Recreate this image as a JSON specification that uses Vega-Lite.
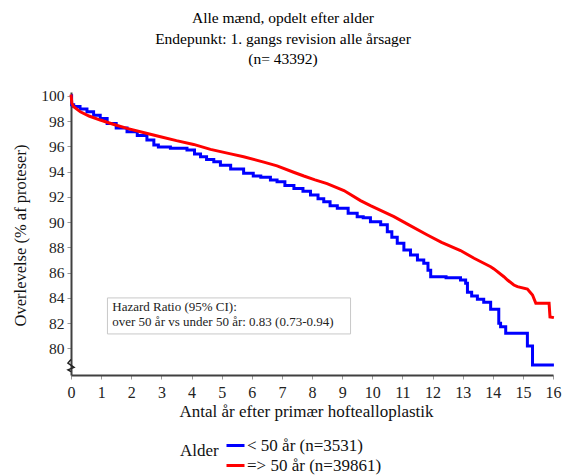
{
  "$schema": "https://vega.github.io/schema/vega-lite/v6.json",
  "width": 482,
  "height": 283,
  "autosize": {"type": "none"},
  "padding": {"left": 71, "top": 92, "right": 13, "bottom": 101},
  "background": "white",
  "config": {"view": {"stroke": null}, "font": "Liberation Serif", "axis": {"labelOverlap": false, "labelBound": false, "labelFlush": false}},
  "title": {
    "text": ["Alle mænd, opdelt efter alder", "Endepunkt: 1. gangs revision alle årsager", "(n= 43392)"],
    "fontSize": 15.5,
    "fontWeight": "normal",
    "font": "Liberation Serif",
    "color": "black",
    "lineHeight": 20.5,
    "anchor": "middle",
    "dx": -29,
    "offset": 21
  },
  "datasets": {
    "km": [
      {"t": 0, "v": 100, "g": "< 50 år (n=3531)"},
      {"t": 0.02, "v": 99.3, "g": "< 50 år (n=3531)"},
      {"t": 0.09, "v": 99.15, "g": "< 50 år (n=3531)"},
      {"t": 0.3, "v": 98.95, "g": "< 50 år (n=3531)"},
      {"t": 0.53, "v": 98.73, "g": "< 50 år (n=3531)"},
      {"t": 0.75, "v": 98.45, "g": "< 50 år (n=3531)"},
      {"t": 0.97, "v": 98.2, "g": "< 50 år (n=3531)"},
      {"t": 1.2, "v": 97.8, "g": "< 50 år (n=3531)"},
      {"t": 1.5, "v": 97.45, "g": "< 50 år (n=3531)"},
      {"t": 1.86, "v": 97.15, "g": "< 50 år (n=3531)"},
      {"t": 2.2, "v": 96.85, "g": "< 50 år (n=3531)"},
      {"t": 2.52, "v": 96.5, "g": "< 50 år (n=3531)"},
      {"t": 2.75, "v": 96.1, "g": "< 50 år (n=3531)"},
      {"t": 2.9, "v": 95.95, "g": "< 50 år (n=3531)"},
      {"t": 3.3, "v": 95.85, "g": "< 50 år (n=3531)"},
      {"t": 3.85, "v": 95.7, "g": "< 50 år (n=3531)"},
      {"t": 4.1, "v": 95.4, "g": "< 50 år (n=3531)"},
      {"t": 4.3, "v": 95.17, "g": "< 50 år (n=3531)"},
      {"t": 4.5, "v": 94.95, "g": "< 50 år (n=3531)"},
      {"t": 4.74, "v": 94.78, "g": "< 50 år (n=3531)"},
      {"t": 4.96, "v": 94.5, "g": "< 50 år (n=3531)"},
      {"t": 5.3, "v": 94.2, "g": "< 50 år (n=3531)"},
      {"t": 5.73, "v": 93.86, "g": "< 50 år (n=3531)"},
      {"t": 6.05, "v": 93.65, "g": "< 50 år (n=3531)"},
      {"t": 6.3, "v": 93.55, "g": "< 50 år (n=3531)"},
      {"t": 6.62, "v": 93.33, "g": "< 50 år (n=3531)"},
      {"t": 6.84, "v": 93.2, "g": "< 50 år (n=3531)"},
      {"t": 7.1, "v": 92.9, "g": "< 50 år (n=3531)"},
      {"t": 7.4, "v": 92.67, "g": "< 50 år (n=3531)"},
      {"t": 7.7, "v": 92.45, "g": "< 50 år (n=3531)"},
      {"t": 7.95, "v": 92.14, "g": "< 50 år (n=3531)"},
      {"t": 8.2, "v": 91.85, "g": "< 50 år (n=3531)"},
      {"t": 8.39, "v": 91.61, "g": "< 50 år (n=3531)"},
      {"t": 8.6, "v": 91.3, "g": "< 50 år (n=3531)"},
      {"t": 8.84, "v": 91.09, "g": "< 50 år (n=3531)"},
      {"t": 9.2, "v": 90.7, "g": "< 50 år (n=3531)"},
      {"t": 9.5, "v": 90.43, "g": "< 50 år (n=3531)"},
      {"t": 9.7, "v": 90.35, "g": "< 50 år (n=3531)"},
      {"t": 9.94, "v": 90.03, "g": "< 50 år (n=3531)"},
      {"t": 10.28, "v": 89.8, "g": "< 50 år (n=3531)"},
      {"t": 10.5, "v": 89.24, "g": "< 50 år (n=3531)"},
      {"t": 10.65, "v": 88.8, "g": "< 50 år (n=3531)"},
      {"t": 10.83, "v": 88.32, "g": "< 50 år (n=3531)"},
      {"t": 11.05, "v": 87.8, "g": "< 50 år (n=3531)"},
      {"t": 11.27, "v": 87.4, "g": "< 50 år (n=3531)"},
      {"t": 11.5, "v": 87.0, "g": "< 50 år (n=3531)"},
      {"t": 11.71, "v": 86.74, "g": "< 50 år (n=3531)"},
      {"t": 11.85, "v": 86.2, "g": "< 50 år (n=3531)"},
      {"t": 11.94, "v": 85.68, "g": "< 50 år (n=3531)"},
      {"t": 12.45, "v": 85.6, "g": "< 50 år (n=3531)"},
      {"t": 12.93, "v": 85.42, "g": "< 50 år (n=3531)"},
      {"t": 13.1, "v": 85.16, "g": "< 50 år (n=3531)"},
      {"t": 13.16, "v": 84.45, "g": "< 50 år (n=3531)"},
      {"t": 13.3, "v": 84.15, "g": "< 50 år (n=3531)"},
      {"t": 13.49, "v": 83.9, "g": "< 50 år (n=3531)"},
      {"t": 13.7, "v": 83.65, "g": "< 50 år (n=3531)"},
      {"t": 13.93, "v": 83.1, "g": "< 50 år (n=3531)"},
      {"t": 14.2, "v": 82.0, "g": "< 50 år (n=3531)"},
      {"t": 14.26, "v": 81.72, "g": "< 50 år (n=3531)"},
      {"t": 14.43, "v": 81.2, "g": "< 50 år (n=3531)"},
      {"t": 15.15, "v": 80.2, "g": "< 50 år (n=3531)"},
      {"t": 15.32, "v": 78.7, "g": "< 50 år (n=3531)"},
      {"t": 16.03, "v": 78.7, "g": "< 50 år (n=3531)"},
      {"t": 0, "v": 100.1, "g": "=> 50 år (n=39861)"},
      {"t": 0.03, "v": 99.4, "g": "=> 50 år (n=39861)"},
      {"t": 0.09, "v": 99.13, "g": "=> 50 år (n=39861)"},
      {"t": 0.31, "v": 98.73, "g": "=> 50 år (n=39861)"},
      {"t": 0.6, "v": 98.4, "g": "=> 50 år (n=39861)"},
      {"t": 0.97, "v": 98.08, "g": "=> 50 år (n=39861)"},
      {"t": 1.4, "v": 97.75, "g": "=> 50 år (n=39861)"},
      {"t": 1.86, "v": 97.42, "g": "=> 50 år (n=39861)"},
      {"t": 2.4, "v": 97.1, "g": "=> 50 år (n=39861)"},
      {"t": 2.97, "v": 96.76, "g": "=> 50 år (n=39861)"},
      {"t": 3.5, "v": 96.45, "g": "=> 50 år (n=39861)"},
      {"t": 4.07, "v": 96.15, "g": "=> 50 år (n=39861)"},
      {"t": 4.63, "v": 95.76, "g": "=> 50 år (n=39861)"},
      {"t": 5.3, "v": 95.4, "g": "=> 50 år (n=39861)"},
      {"t": 5.73, "v": 95.17, "g": "=> 50 år (n=39861)"},
      {"t": 6.4, "v": 94.75, "g": "=> 50 år (n=39861)"},
      {"t": 6.84, "v": 94.45, "g": "=> 50 år (n=39861)"},
      {"t": 7.39, "v": 93.95, "g": "=> 50 år (n=39861)"},
      {"t": 7.73, "v": 93.65, "g": "=> 50 år (n=39861)"},
      {"t": 8.1, "v": 93.35, "g": "=> 50 år (n=39861)"},
      {"t": 8.5, "v": 93.05, "g": "=> 50 år (n=39861)"},
      {"t": 9.06, "v": 92.5, "g": "=> 50 år (n=39861)"},
      {"t": 9.61, "v": 91.7, "g": "=> 50 år (n=39861)"},
      {"t": 9.94, "v": 91.3, "g": "=> 50 år (n=39861)"},
      {"t": 10.72, "v": 90.43, "g": "=> 50 år (n=39861)"},
      {"t": 11.2, "v": 89.8, "g": "=> 50 år (n=39861)"},
      {"t": 11.83, "v": 88.98, "g": "=> 50 år (n=39861)"},
      {"t": 12.3, "v": 88.4, "g": "=> 50 år (n=39861)"},
      {"t": 12.93, "v": 87.75, "g": "=> 50 år (n=39861)"},
      {"t": 13.38, "v": 87.14, "g": "=> 50 år (n=39861)"},
      {"t": 13.93, "v": 86.47, "g": "=> 50 år (n=39861)"},
      {"t": 14.04, "v": 86.3, "g": "=> 50 år (n=39861)"},
      {"t": 14.37, "v": 85.68, "g": "=> 50 år (n=39861)"},
      {"t": 14.49, "v": 85.42, "g": "=> 50 år (n=39861)"},
      {"t": 14.7, "v": 85.02, "g": "=> 50 år (n=39861)"},
      {"t": 14.82, "v": 84.89, "g": "=> 50 år (n=39861)"},
      {"t": 15.15, "v": 84.7, "g": "=> 50 år (n=39861)"},
      {"t": 15.32, "v": 84.23, "g": "=> 50 år (n=39861)"},
      {"t": 15.43, "v": 83.58, "g": "=> 50 år (n=39861)"},
      {"t": 15.87, "v": 83.58, "g": "=> 50 år (n=39861)"},
      {"t": 15.9, "v": 82.5, "g": "=> 50 år (n=39861)"},
      {"t": 16.03, "v": 82.44, "g": "=> 50 år (n=39861)"}
    ]
  },
  "encoding": {
    "x": {
      "field": "t", "type": "quantitative",
      "scale": {"domain": [0, 16], "nice": false, "zero": false},
      "axis": {
        "values": [0,1,2,3,4,5,6,7,8,9,10,11,12,13,14,15,16],
        "tickCount": 17,
        "labelOverlap": false,
        "labelBound": false,
        "labelFlush": false,
        "grid": false,
        "domainColor": "#404040", "domainWidth": 2,
        "tickColor": "#999999", "tickSize": 4,
        "labelFontSize": 16, "labelColor": "#222222", "labelPadding": 5,
        "labelFont": "Liberation Serif",
        "title": "Antal år efter primær hoftealloplastik",
        "titleFont": "Liberation Serif",
        "titleFontSize": 17, "titleFontWeight": "normal", "titleColor": "#111111",
        "titlePadding": 3, "titleX": 235
      }
    },
    "y": {
      "field": "v", "type": "quantitative",
      "scale": {"domain": [77.9, 100.3], "nice": false, "zero": false},
      "axis": {
        "values": [80,82,84,86,88,90,92,94,96,98,100],
        "tickCount": 11,
        "labelOverlap": false,
        "labelBound": false,
        "labelFlush": false,
        "grid": false,
        "domainColor": "#404040", "domainWidth": 2,
        "tickColor": "#999999", "tickSize": 4,
        "labelFontSize": 15.5, "labelColor": "#222222", "labelPadding": 3,
        "labelFont": "Liberation Serif",
        "title": "Overlevelse (% af proteser)",
        "titleFont": "Liberation Serif",
        "titleFontSize": 16.5, "titleFontWeight": "normal", "titleColor": "#111111",
        "titleX": -51, "titleY": 143, "titleAlign": "center", "titleBaseline": "middle"
      }
    }
  },
  "layer": [
    {
      "data": {"name": "km"},
      "transform": [{"filter": "datum.g == '< 50 år (n=3531)'"}],
      "mark": {"type": "line", "interpolate": "step-after", "strokeWidth": 3},
      "encoding": {
        "color": {
          "field": "g", "type": "nominal",
          "scale": {"domain": ["< 50 år (n=3531)", "=> 50 år (n=39861)"], "range": ["#0000FF", "#FF0000"]},
          "legend": {
            "title": "Alder",
            "orient": "none", "legendX": 109, "legendY": 343,
            "titleOrient": "left", "titleAnchor": "start", "titleBaseline": "line-top", "titleLineHeight": 32,
            "titleFont": "Liberation Serif", "titleFontSize": 17, "titleFontWeight": "normal", "titleColor": "#111111",
            "titlePadding": 6,
            "labelFont": "Liberation Serif", "labelFontSize": 17, "labelColor": "#111111",
            "symbolType": "stroke", "symbolSize": 324, "symbolStrokeWidth": 3,
            "labelOffset": 1, "rowPadding": 1, "padding": 0
          }
        }
      }
    },
    {
      "data": {"name": "km"},
      "transform": [{"filter": "datum.g == '=> 50 år (n=39861)'"}],
      "mark": {"type": "line", "interpolate": "linear", "strokeWidth": 3},
      "encoding": {
        "color": {"field": "g", "type": "nominal"}
      }
    },
    {
      "data": {"values": [{"x1": 1.21, "x2": 9.28, "y1": 84.0, "y2": 81.15}]},
      "mark": {"type": "rect", "fill": "white", "stroke": "#c8c8c8", "strokeWidth": 1},
      "encoding": {
        "x": {"field": "x1", "type": "quantitative"},
        "x2": {"field": "x2"},
        "y": {"field": "y1", "type": "quantitative"},
        "y2": {"field": "y2"}
      }
    },
    {
      "data": {"values": [
        {"t": 1.37, "v": 83.3, "label": "Hazard Ratio (95% CI):"},
        {"t": 1.37, "v": 82.1, "label": "over 50 år vs under 50 år: 0.83 (0.73-0.94)"}
      ]},
      "mark": {"type": "text", "align": "left", "baseline": "middle", "font": "Liberation Serif", "fontSize": 13, "color": "#222222"},
      "encoding": {
        "text": {"field": "label"}
      }
    },
    {
      "data": {"values": [{"t": 0, "v": 78.65}]},
      "mark": {"type": "point", "shape": "M0,-1 L-0.5,-0.4 L0.5,0.3 L-0.5,0.7 L0,1", "size": 150, "filled": false, "stroke": "#222222", "strokeWidth": 1.5, "opacity": 1},
      "encoding": {}
    }
  ]
}
